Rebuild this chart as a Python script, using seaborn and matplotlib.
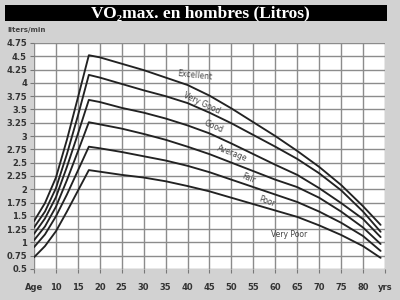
import matplotlib
matplotlib.use("Agg")
import matplotlib.pyplot as plt
from matplotlib.patches import Rectangle
import seaborn as sns
import pandas as pd

ages = [5, 7.5, 10, 12.5, 15, 17.5, 20, 25, 30, 35, 40, 45, 50, 55, 60, 65, 70, 75, 80, 84]
line1 = [1.40, 1.74, 2.22, 2.93, 3.72, 4.52, 4.48, 4.36, 4.24, 4.10, 3.96, 3.76, 3.52, 3.26, 3.00, 2.72, 2.42, 2.08, 1.68, 1.33]
line2 = [1.28, 1.58, 2.02, 2.66, 3.38, 4.15, 4.10, 3.98, 3.86, 3.75, 3.62, 3.44, 3.24, 3.02, 2.80, 2.57, 2.30, 1.98, 1.58, 1.20]
line3 = [1.16, 1.45, 1.85, 2.42, 3.04, 3.68, 3.64, 3.53, 3.44, 3.33, 3.20, 3.05, 2.86, 2.66, 2.46, 2.27, 2.02, 1.74, 1.44, 1.10]
line4 = [1.04, 1.30, 1.67, 2.17, 2.71, 3.26, 3.22, 3.14, 3.04, 2.93, 2.80, 2.66, 2.50, 2.34, 2.18, 2.04, 1.84, 1.58, 1.28, 0.97]
line5 = [0.91, 1.15, 1.49, 1.90, 2.35, 2.80, 2.77, 2.70, 2.62, 2.54, 2.44, 2.32, 2.18, 2.04, 1.90, 1.76, 1.58, 1.37, 1.12, 0.84]
line6 = [0.72, 0.93, 1.21, 1.58, 1.97, 2.36, 2.33, 2.27, 2.22, 2.15, 2.06, 1.96, 1.84, 1.72, 1.60, 1.48, 1.32, 1.14, 0.93, 0.71]

zone_labels = ["Excellent", "Very Good", "Good", "Average", "Fair", "Poor", "Very Poor"]
zone_x = [41.6, 43.2, 45.9, 50.2, 53.9, 58.0, 63.2]
zone_y = [4.15, 3.62, 3.17, 2.68, 2.21, 1.76, 1.14]
zone_rot = [-6, -25, -23, -21, -23, -20, 0]

y_ticks = [0.5, 0.75, 1, 1.25, 1.5, 1.75, 2, 2.25, 2.5, 2.75, 3, 3.25, 3.5, 3.75, 4, 4.25, 4.5, 4.75]
y_tick_labels = ["0.5", "0.75", "1", "1.25", "1.5", "1.75", "2", "2.25", "2.5", "2.75", "3", "3.25", "3.5", "3.75", "4", "4.25", "4.5", "4.75"]
x_ticks = [5, 10, 15, 20, 25, 30, 35, 40, 45, 50, 55, 60, 65, 70, 75, 80, 85]
x_tick_labels = ["Age", "10", "15", "20", "25", "30", "35", "40", "45", "50", "55", "60", "65", "70", "75", "80", "yrs"]

series = {"L1": line1, "L2": line2, "L3": line3, "L4": line4, "L5": line5, "L6": line6}
rows = []
for name, vals in series.items():
    for a, v in zip(ages, vals):
        rows.append({"age": a, "value": v, "line": name})
df = pd.DataFrame(rows)

sns.set_style("white")
plt.rcParams["font.family"] = ["DejaVu Sans"]

bg = "#d2d2d2"
fig = plt.figure(figsize=(4, 3), dpi=100, facecolor=bg)
ax = fig.add_axes([34 / 400, 1 - 269 / 300, 351 / 400, 226 / 300])
ax.set_facecolor("white")

sns.lineplot(data=df, x="age", y="value", hue="line", palette=["#222222"] * 6,
             legend=False, ax=ax, linewidth=1.35, sort=False)

ax.set_xlim(5, 85)
ax.set_ylim(0.5, 4.75)
ax.set_xticks(x_ticks)
ax.set_xticklabels(x_tick_labels)
ax.set_yticks(y_ticks)
ax.set_yticklabels(y_tick_labels)
ax.grid(True, color="#8c8c8c", linewidth=1.0)
ax.set_axisbelow(True)
for s in ax.spines.values():
    s.set_visible(False)
ax.tick_params(axis="y", length=3, width=0.8, color="#777777", pad=2,
               labelsize=6, labelcolor="#333333", left=True)
ax.tick_params(axis="x", length=3, width=0.8, color="#777777", pad=7,
               labelsize=6, labelcolor="#333333", bottom=True)
for lab in ax.get_xticklabels() + ax.get_yticklabels():
    lab.set_fontweight("bold")
ax.set_xlabel("")
ax.set_ylabel("")

for t, x, y, r in zip(zone_labels, zone_x, zone_y, zone_rot):
    ax.text(x, y, t, fontsize=5.5, color="#444444", rotation=r,
            ha="center", va="center", rotation_mode="anchor")

fig.patches.append(Rectangle((5 / 400, 1 - 21 / 300), 382 / 400, 16 / 300,
                             transform=fig.transFigure, facecolor="black",
                             edgecolor="none", zorder=0))
fig.text(0.5, 1 - 13 / 300, "VO\u2082max. en hombres (Litros)", color="white",
         fontsize=12.5, fontweight="bold", ha="center", va="center",
         family=["Liberation Serif", "DejaVu Serif"])
fig.text(7 / 400, 1 - 30 / 300, "liters/min", fontsize=5, fontweight="bold",
         color="#444444", ha="left", va="center")

fig.savefig("out.png", dpi=100, facecolor=bg)
